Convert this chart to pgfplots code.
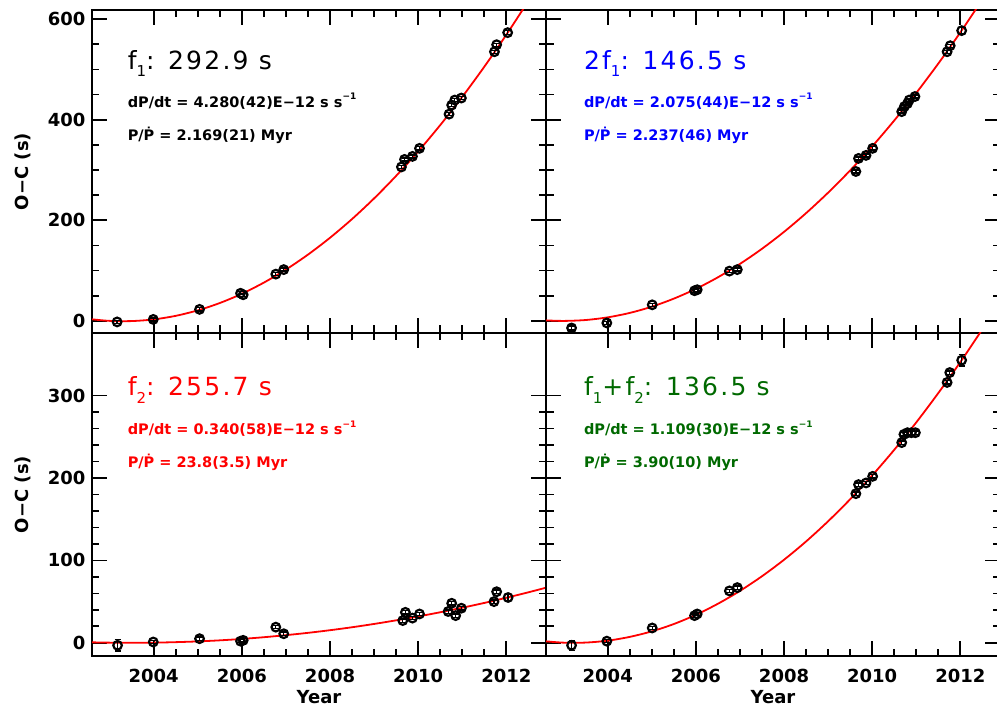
\documentclass[border=0pt]{standalone}
\usepackage{pgfplots}
\usepackage{pgfplotstable}
\pgfplotsset{compat=1.18}
\usepackage{fontspec}
\setmainfont{DejaVu Sans}
\newfontfamily\titlefont[LetterSpace=9]{DejaVu Sans}
\definecolor{dgreen}{RGB}{0,105,0}
\newcommand\tfont{\titlefont\fontsize{25bp}{25bp}\selectfont}
\newcommand\afont{\bfseries\fontsize{14.5bp}{15bp}\selectfont}
\newcommand\lfont{\bfseries\fontsize{18bp}{18bp}\selectfont}
\newcommand\sub[1]{\raisebox{-0.3em}{\fontsize{15bp}{15bp}\selectfont #1}}
\newcommand\supm[1]{\raisebox{0.5em}{\fontsize{9bp}{9bp}\selectfont #1}}

\pgfplotstableread{
x y e
2003.17 -2 3
2003.99 3 3
2005.04 23 3
2005.97 55 3
2006.03 52 3
2006.77 93 3
2006.95 102 3
2009.62 306 3
2009.69 321 3
2009.87 327 3
2010.03 343 3
2010.70 411 3
2010.76 429 3
2010.83 439 3
2010.98 443 3
2011.73 535 3
2011.78 549 3
2012.03 573 4
}\tA
\pgfplotstableread{
x y
2002.6 3.2
2003.0 0.1
2003.5 -0.3
2004.0 3.0
2004.5 10.1
2005.0 21.0
2005.5 35.6
2006.0 54.0
2006.5 76.2
2007.0 102.1
2007.5 131.8
2008.0 165.3
2008.5 202.5
2009.0 243.5
2009.5 288.3
2010.0 336.9
2010.5 389.2
2011.0 445.3
2011.5 505.2
2012.0 568.8
2012.5 636.2
2012.9 692.9
}\cA
\pgfplotstableread{
x y e
2003.18 -14 4
2003.98 -4 3
2005.01 32 3
2005.97 60 3
2006.03 62 3
2006.76 99 3
2006.94 102 3
2009.63 297 3
2009.69 323 3
2009.86 329 3
2010.01 343 3
2010.67 416 3
2010.73 426 3
2010.80 432 3
2010.84 439 3
2010.97 446 3
2011.70 535 3
2011.77 547 3
2012.03 577 6
}\tB
\pgfplotstableread{
x y
2002.6 1.1
2003.0 0.0
2003.5 1.8
2004.0 7.1
2004.5 15.9
2005.0 28.3
2005.5 44.3
2006.0 63.7
2006.5 86.7
2007.0 113.3
2007.5 143.4
2008.0 177.0
2008.5 214.2
2009.0 254.9
2009.5 299.1
2010.0 346.9
2010.5 398.3
2011.0 453.1
2011.5 511.5
2012.0 573.5
2012.5 639.0
2012.9 693.9
}\cB
\pgfplotstableread{
x y e
2003.18 -3 7
2003.99 1 2
2005.04 5 2
2005.97 2 2
2006.03 3 2
2006.77 19 2
2006.95 11 2
2009.65 27 2
2009.71 37 2
2009.87 30 2
2010.03 35 2
2010.68 38 2
2010.76 48 2
2010.85 33 2
2010.98 42 2
2011.72 50 2
2011.78 62 2
2012.04 55 4
}\tC
\pgfplotstableread{
x y
2002.6 0.6
2003.0 0.2
2003.5 0.0
2004.0 0.2
2004.5 0.8
2005.0 1.7
2005.5 3.0
2006.0 4.7
2006.5 6.8
2007.0 9.3
2007.5 12.1
2008.0 15.3
2008.5 18.9
2009.0 22.9
2009.5 27.3
2010.0 32.0
2010.5 37.1
2011.0 42.6
2011.5 48.4
2012.0 54.7
2012.5 61.3
2012.9 66.9
}\cC
\pgfplotstableread{
x y e
2003.18 -3 6
2003.98 2 2
2005.01 18 2
2005.97 33 2
2006.03 35 2
2006.76 63 2
2006.94 67 2
2009.63 181 2
2009.69 192 2
2009.86 194 2
2010.01 202 2
2010.67 243 2
2010.72 253 2
2010.80 255 2
2010.89 255 2
2010.98 255 2
2011.70 316 2
2011.76 328 2
2012.03 343 7
}\tD
\pgfplotstableread{
x y
2002.6 1.8
2003.0 0.2
2003.5 0.3
2004.0 2.6
2004.5 7.2
2005.0 13.9
2005.5 22.8
2006.0 34.0
2006.5 47.4
2007.0 63.0
2007.5 80.8
2008.0 100.8
2008.5 123.0
2009.0 147.5
2009.5 174.2
2010.0 203.1
2010.5 234.2
2011.0 267.5
2011.5 303.1
2012.0 340.7
2012.5 380.7
2012.9 414.3
}\cD

\pgfplotsset{
  panel/.style={
    width=454bp, height=323bp, scale only axis,
    anchor=south west,
    xmin=2002.6, xmax=2012.9,
    xtick={2004,2006,2008,2010,2012},
    minor x tick num=3,
    tick align=inside,
    tick pos=both,
    major tick length=15bp, minor tick length=7.5bp,
    every tick/.append style={line width=1.7bp, black},
    axis line style={line width=2.5bp},
    /pgf/number format/assume math mode=true,
    /pgf/number format/1000 sep={},
    ticklabel style={font=\lfont},
    xticklabel style={yshift=-10bp},
    yticklabel style={xshift=-3bp},
    label style={font=\lfont},
    xlabel style={at={(rel axis cs:0.5,-0.127)}, anchor=center},
    ylabel style={at={(rel axis cs:-0.152,0.5)}, anchor=center},
  },
  toprow/.style={ymin=-24, ymax=618, ytick={0,200,400,600}, minor y tick num=3, xticklabels={}},
  botrow/.style={ymin=-16, ymax=376, ytick={0,100,200,300}, minor y tick num=4, xlabel={Year}},
  pts/.style={only marks, mark=o, mark size=4.3bp, black, mark options={line width=2.2bp},
    error bars/.cd, y dir=both, y explicit,
    error bar style={line width=1.3bp, black},
    error mark options={rotate=90, mark size=3bp, line width=1.3bp, black}},
  fit/.style={red, line width=1.8bp, smooth, no marks},
}

\begin{document}
\begin{tikzpicture}
\useasboundingbox (0,0) rectangle (997bp,707bp);

\begin{axis}[panel, toprow, at={(92bp,374bp)}, ylabel={O−C (s)}]
\addplot[fit] table[x=x,y=y] {\cA};
\addplot[pts] table[x=x,y=y,y error=e] {\tA};
\node[anchor=base west, font=\tfont] at (rel axis cs:0.071,0.817) {f\sub{1}: 292.9 s};
\node[anchor=west, font=\afont] at (rel axis cs:0.071,0.718) {dP/dt = 4.280(42)E−12 s s\supm{−1}};
\node[anchor=west, font=\afont] at (rel axis cs:0.071,0.613) {P/\.{P} = 2.169(21) Myr};
\end{axis}

\begin{axis}[panel, toprow, at={(546bp,374bp)}, yticklabels={}]
\addplot[fit] table[x=x,y=y] {\cB};
\addplot[pts] table[x=x,y=y,y error=e] {\tB};
\node[anchor=base west, font=\tfont, text=blue] at (rel axis cs:0.076,0.817) {2f\sub{1}: 146.5 s};
\node[anchor=west, font=\afont, text=blue] at (rel axis cs:0.076,0.718) {dP/dt = 2.075(44)E−12 s s\supm{−1}};
\node[anchor=west, font=\afont, text=blue] at (rel axis cs:0.076,0.613) {P/\.{P} = 2.237(46) Myr};
\end{axis}

\begin{axis}[panel, botrow, at={(92bp,51bp)}, ylabel={O−C (s)}]
\addplot[fit] table[x=x,y=y] {\cC};
\addplot[pts] table[x=x,y=y,y error=e] {\tC};
\node[anchor=base west, font=\tfont, text=red] at (rel axis cs:0.071,0.805) {f\sub{2}: 255.7 s};
\node[anchor=west, font=\afont, text=red] at (rel axis cs:0.071,0.703) {dP/dt = 0.340(58)E−12 s s\supm{−1}};
\node[anchor=west, font=\afont, text=red] at (rel axis cs:0.071,0.600) {P/\.{P} = 23.8(3.5) Myr};
\end{axis}

\begin{axis}[panel, botrow, at={(546bp,51bp)}, yticklabels={}]
\addplot[fit] table[x=x,y=y] {\cD};
\addplot[pts] table[x=x,y=y,y error=e] {\tD};
\node[anchor=base west, font=\tfont, text=dgreen] at (rel axis cs:0.076,0.805) {f\sub{1}+f\sub{2}: 136.5 s};
\node[anchor=west, font=\afont, text=dgreen] at (rel axis cs:0.076,0.703) {dP/dt = 1.109(30)E−12 s s\supm{−1}};
\node[anchor=west, font=\afont, text=dgreen] at (rel axis cs:0.076,0.600) {P/\.{P} = 3.90(10) Myr};
\end{axis}
\end{tikzpicture}
\end{document}
